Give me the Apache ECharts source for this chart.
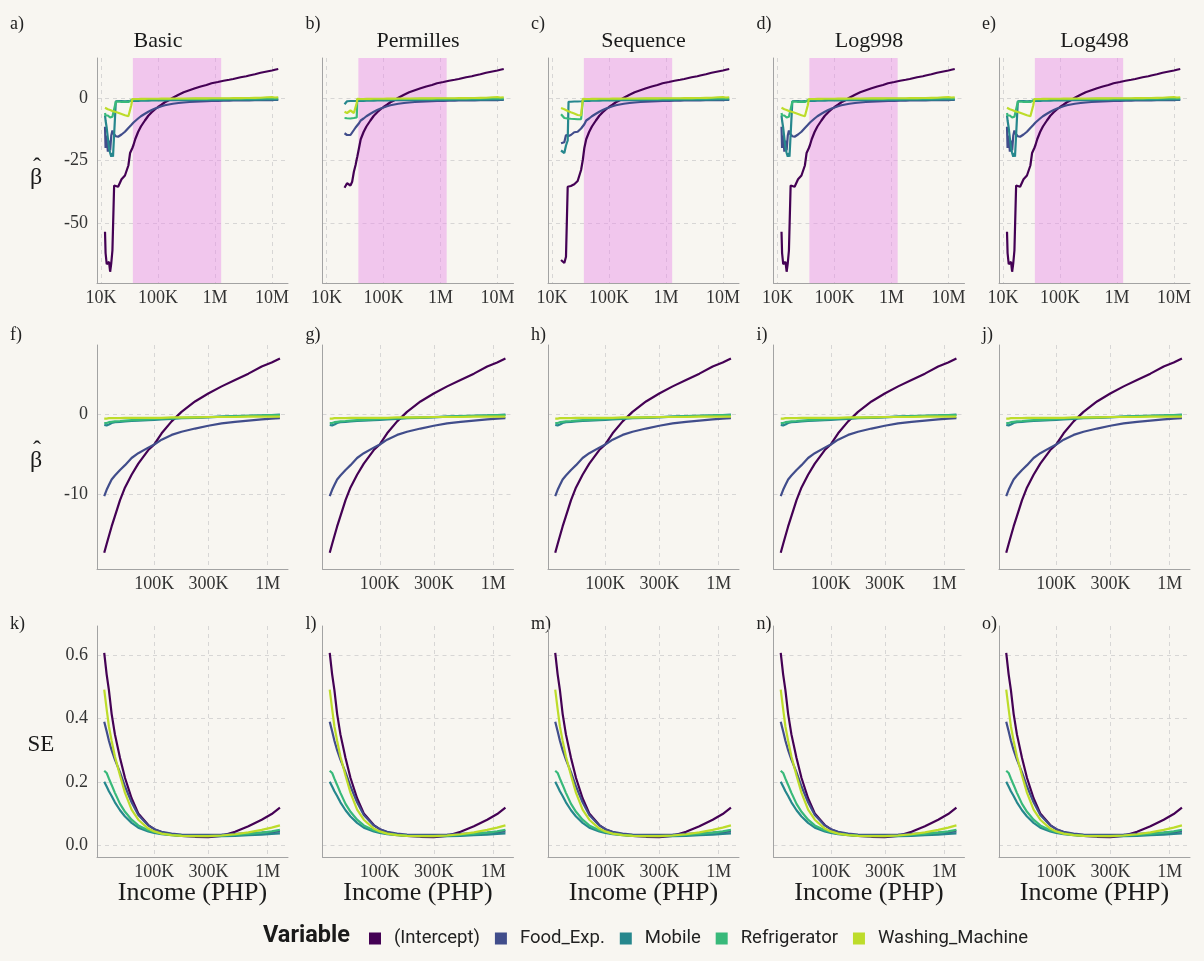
<!DOCTYPE html>
<html>
<head>
<meta charset="utf-8">
<script src="https://cdn.jsdelivr.net/npm/echarts@6/dist/echarts.min.js"></script>
<style>
  html, body { margin: 0; padding: 0; background: #f8f6f1; }
  #chart { width: 1204px; height: 961px; }
</style>
</head>
<body>
<div id="chart"></div>
<script>
// ---- Categories ----
const methods = ['Basic', 'Permilles', 'Sequence', 'Log998', 'Log498'];
const variables = ['(Intercept)', 'Food_Exp.', 'Mobile', 'Refrigerator', 'Washing_Machine'];
const panelTags = ['a)', 'b)', 'c)', 'd)', 'e)', 'f)', 'g)', 'h)', 'i)', 'j)', 'k)', 'l)', 'm)', 'n)', 'o)'];

// ---- Tick labels ----
const row1IncomeTicks = [10000, 100000, 1000000, 10000000];
const row23IncomeTicks = [100000, 300000, 1000000];
const row1BetaTicks = [-50, -25, 0];
const row2BetaTicks = [-10, 0];
const row3SeTicks = [0, 0.2, 0.4, 0.6];

// ---- Row 1: coefficient paths over the full income range (PHP) ----
// low-income start of each path, per binning method
const headIncomeBasic = [11750, 12020, 12590, 13180, 13800, 14450, 15140, 15850, 16220, 16980, 18200, 19950, 21380, 22910, 26300, 30200, 32360, 33880, 35480, 37150];
const headInterceptBasic = [-53.5, -62, -66.5, -67, -65.5, -69.5, -66, -61, -60.5, -35, -34.5, -35.5, -34, -32.5, -31, -27, -22, -21, -20, -18.8];
const headFoodBasic = [-11.5, -20, -15, -21.5, -17, -21, -15, -13, -14, -14.5, -15.3, -15.5, -15.2, -14.6, -13.5, -12, -11.3, -10.8, -10.3, -9.8];
const headMobileBasic = [-7, -9, -12, -16, -20, -22, -23.5, -22, -23.5, -23, -1.3, -1.2, -1.3, -1.2, -1.3, -1.2, -1.2, -1.2, -1.2, -1.2];
const headFridgeBasic = [-6, -7, -6.5, -7, -7.5, -7.8, -8, -7.5, -7.8, -8, -1.5, -1.4, -1.5, -1.6, -1.5, -1.6, -1.2, -0.9, -0.7, -0.6];
const headWasherBasic = [-3.9, -4.1, -4.3, -4.5, -4.6, -4.8, -5.0, -5.2, -5.3, -5.4, -5.6, -5.9, -6.2, -6.4, -6.9, -7.3, -7.5, -3, -0.4, -0.4];

const headIncomePermilles = [20700, 22910, 26300, 28180, 30200, 32360, 33880, 34670, 37150];
const headInterceptPermilles = [-35.9, -34.1, -35, -33.5, -29.5, -26.8, -24.5, -23.5, -20];
const headFoodPermilles = [-14.1, -14.8, -14.8, -13.8, -12.8, -11.8, -11.2, -11, -10.1];
const headMobilePermilles = [-2.5, -1.3, -1.2, -1.2, -1.2, -1.2, -1.2, -1.2, -1.2];
const headFridgePermilles = [-8, -8.1, -8.2, -8.2, -8, -8, -7.8, -0.6, -0.6];
const headWasherPermilles = [-5.5, -6, -5, -5.5, -6, -5.5, -2, -0.3, -0.3];

const headIncomeSequence = [14390, 16440, 17580, 18840, 19500, 21380, 23070, 24550, 28180, 32360, 34670, 36900];
const headInterceptSequence = [-64.8, -66, -63.5, -35.5, -35.3, -35.2, -35, -34.5, -33.2, -28.8, -24.8, -20];
const headFoodSequence = [-18.1, -17.7, -14.8, -15.5, -15.2, -14.8, -14.2, -13.7, -13.5, -12.2, -11.5, -10.5];
const headMobileSequence = [-21, -22, -19, -17, -1.5, -1.5, -1.4, -1.4, -1.4, -1.3, -1.3, -1.2];
const headFridgeSequence = [-6.5, -8, -8.2, -8.2, -8.2, -8.3, -8.3, -8.4, -8.5, -8.5, -1.0, -0.8];
const headWasherSequence = [-4, -4.5, -4.8, -5.2, -5.3, -5.7, -6, -6.2, -6.8, -7, -0.3, -0.3];

// shared upper part of every path
const tailIncome = [39800, 44700, 50100, 58900, 67600, 77600, 89100, 100000, 115000, 132000, 155000, 182000, 229000, 282000, 355000, 447000, 562000, 708000, 871000, 1122000, 1413000, 1778000, 2089000, 2818000, 3548000, 3981000, 5012000, 6310000, 8128000, 10000000, 11220000, 12880000];
const tailIntercept = [-16.5, -13.6, -11.4, -9.0, -7.1, -5.7, -4.5, -3.6, -2.7, -1.7, -0.9, 0.1, 1.3, 2.3, 3.1, 3.9, 4.6, 5.2, 5.9, 6.4, 6.9, 7.3, 7.6, 8.3, 8.7, 9.0, 9.5, 10.1, 10.6, 11.0, 11.3, 11.6];
const tailFood = [-9.0, -8.2, -7.3, -6.3, -5.5, -4.8, -4.2, -3.8, -3.3, -2.9, -2.6, -2.3, -2.0, -1.8, -1.6, -1.5, -1.4, -1.3, -1.2, -1.15, -1.1, -1.05, -1.0, -1.0, -0.95, -0.95, -0.9, -0.9, -0.85, -0.85, -0.8, -0.8];
const tailMobile = [-1.2, -1.2, -1.1, -1.1, -1.1, -1.0, -1.0, -1.0, -0.95, -0.95, -0.9, -0.9, -0.9, -0.85, -0.85, -0.8, -0.8, -0.8, -0.75, -0.75, -0.75, -0.7, -0.7, -0.7, -0.7, -0.65, -0.65, -0.65, -0.6, -0.6, -0.6, -0.6];
const tailFridge = [-0.6, -0.6, -0.55, -0.55, -0.5, -0.5, -0.5, -0.45, -0.45, -0.45, -0.4, -0.4, -0.4, -0.4, -0.35, -0.35, -0.35, -0.35, -0.3, -0.3, -0.3, -0.3, -0.3, -0.25, -0.25, -0.25, -0.25, -0.2, -0.2, -0.2, -0.2, -0.2];
const tailWasher = [-0.4, -0.4, -0.35, -0.35, -0.3, -0.3, -0.3, -0.3, -0.25, -0.25, -0.25, -0.2, -0.2, -0.2, -0.2, -0.15, -0.15, -0.15, -0.1, -0.1, -0.1, -0.1, -0.05, -0.05, 0.0, 0.0, 0.05, 0.1, 0.3, 0.4, 0.2, 0.3];

// ---- Rows 2 and 3: restricted income range ----
const midIncome = [36200, 38020, 39810, 42070, 44980, 49890, 55210, 63100, 72280, 88510, 100000, 116100, 142200, 173800, 228600, 299200, 392600, 515200, 676100, 885100, 1084000, 1282000];
const midIntercept = [-17.4, -16.3, -15.3, -14.1, -12.8, -10.8, -9.2, -7.6, -6.2, -4.5, -3.8, -2.4, -0.9, 0.3, 1.6, 2.6, 3.5, 4.3, 5.1, 6.0, 6.5, 7.0];
const midFood = [-10.3, -9.5, -8.9, -8.2, -7.7, -7.0, -6.4, -5.5, -4.9, -4.2, -3.8, -3.2, -2.6, -2.2, -1.8, -1.45, -1.15, -0.95, -0.8, -0.65, -0.55, -0.5];
const midMobile = [-1.35, -1.4, -1.3, -1.1, -1.0, -0.95, -0.9, -0.85, -0.8, -0.75, -0.7, -0.65, -0.6, -0.5, -0.45, -0.4, -0.3, -0.25, -0.2, -0.15, -0.1, -0.05];
const midFridge = [-1.1, -1.1, -1.0, -0.95, -0.9, -0.85, -0.8, -0.75, -0.7, -0.65, -0.6, -0.55, -0.5, -0.45, -0.4, -0.35, -0.3, -0.25, -0.2, -0.15, -0.1, -0.1];
const midWasher = [-0.55, -0.55, -0.5, -0.5, -0.5, -0.5, -0.45, -0.45, -0.45, -0.45, -0.45, -0.45, -0.4, -0.4, -0.4, -0.35, -0.35, -0.35, -0.3, -0.3, -0.3, -0.3];

const seIntercept = [0.608, 0.54, 0.49, 0.415, 0.35, 0.275, 0.212, 0.148, 0.1, 0.063, 0.05, 0.04, 0.033, 0.029, 0.026, 0.025, 0.029, 0.042, 0.059, 0.08, 0.098, 0.118];
const seFood = [0.39, 0.36, 0.33, 0.3, 0.27, 0.23, 0.185, 0.135, 0.095, 0.062, 0.05, 0.042, 0.036, 0.033, 0.032, 0.032, 0.033, 0.035, 0.037, 0.039, 0.041, 0.043];
const seMobile = [0.2, 0.185, 0.17, 0.155, 0.135, 0.11, 0.09, 0.07, 0.055, 0.043, 0.038, 0.034, 0.031, 0.029, 0.028, 0.028, 0.028, 0.029, 0.031, 0.033, 0.035, 0.037];
const seFridge = [0.235, 0.228, 0.21, 0.19, 0.165, 0.13, 0.105, 0.08, 0.062, 0.047, 0.041, 0.036, 0.032, 0.03, 0.029, 0.029, 0.03, 0.032, 0.035, 0.039, 0.043, 0.048];
const seWasher = [0.492, 0.43, 0.375, 0.33, 0.28, 0.22, 0.165, 0.112, 0.08, 0.052, 0.043, 0.036, 0.031, 0.029, 0.028, 0.028, 0.03, 0.034, 0.04, 0.048, 0.055, 0.062];

// ---- Styling / layout ----
const colors = ['#440154', '#414d8b', '#26878d', '#38b97a', '#bddc2a'];
const serif = '"Liberation Serif", "DejaVu Serif", serif';
const colLeft = [97, 322.5, 548, 773.5, 999];
const plotWidth = 191;
const titleCenter = [158, 418, 643.5, 869, 1094.5];
const rowLayout = [
  { top: 58, height: 225, xRange: [8500, 19100000], yRange: [-74, 16], xTicks: row1IncomeTicks, yTicks: row1BetaTicks, digits: 0 },
  { top: 345, height: 224, xRange: [31260, 1510000], yRange: [-19.45, 8.7], xTicks: row23IncomeTicks, yTicks: row2BetaTicks, digits: 0 },
  { top: 626, height: 231, xRange: [31260, 1510000], yRange: [-0.038, 0.693], xTicks: row23IncomeTicks, yTicks: row3SeTicks, digits: 1 }
];

const L = Math.log10;
const pairs = (xs, ys) => xs.map((x, i) => [L(x), ys[i]]);

function fmtIncome(v) {
  const n = Math.round(Math.pow(10, v));
  if (n >= 1e6) return (n / 1e6) + 'M';
  if (n >= 1e3) return (n / 1e3) + 'K';
  return String(n);
}

const basicHead = [headIncomeBasic, [headInterceptBasic, headFoodBasic, headMobileBasic, headFridgeBasic, headWasherBasic]];
const row1Heads = {
  Basic: basicHead,
  Permilles: [headIncomePermilles, [headInterceptPermilles, headFoodPermilles, headMobilePermilles, headFridgePermilles, headWasherPermilles]],
  Sequence: [headIncomeSequence, [headInterceptSequence, headFoodSequence, headMobileSequence, headFridgeSequence, headWasherSequence]],
  Log998: basicHead,
  Log498: basicHead
};
const tails = [tailIntercept, tailFood, tailMobile, tailFridge, tailWasher];
const midSeries = [midIntercept, midFood, midMobile, midFridge, midWasher];
const seSeries = [seIntercept, seFood, seMobile, seFridge, seWasher];

const grids = [], xAxes = [], yAxes = [], series = [], graphics = [];

rowLayout.forEach((row, r) => {
  methods.forEach((m, c) => {
    const idx = r * 5 + c;
    grids.push({ left: colLeft[c], top: row.top, width: plotWidth, height: row.height, containLabel: false });
    const xTickPos = row.xTicks.map(v => L(v));
    xAxes.push({
      type: 'value', gridIndex: idx,
      min: L(row.xRange[0]), max: L(row.xRange[1]),
      axisLine: { show: true, onZero: false, lineStyle: { color: '#a3a3a3', width: 1 } },
      axisTick: { show: false, customValues: xTickPos },
      axisLabel: {
        customValues: xTickPos, formatter: fmtIncome, margin: 6,
        fontFamily: serif, fontSize: 18, color: '#333'
      },
      splitLine: { show: true, lineStyle: { color: '#cfcfcf', width: 0.8, type: [4, 4] } }
    });
    yAxes.push({
      type: 'value', gridIndex: idx,
      min: row.yRange[0], max: row.yRange[1],
      axisLine: { show: true, onZero: false, lineStyle: { color: '#a3a3a3', width: 1 } },
      axisTick: { show: false, customValues: row.yTicks },
      axisLabel: {
        show: c === 0, customValues: row.yTicks, margin: 9,
        formatter: v => v.toFixed(row.digits),
        fontFamily: serif, fontSize: 18, color: '#333'
      },
      splitLine: { show: true, lineStyle: { color: '#cfcfcf', width: 0.8, type: [4, 4] } }
    });

    // shaded band = income range used in the restricted models
    if (r === 0) {
      series.push({
        type: 'line', xAxisIndex: idx, yAxisIndex: idx, data: [], z: 1, silent: true,
        markArea: {
          silent: true,
          itemStyle: { color: 'rgba(232, 140, 232, 0.45)' },
          data: [[{ xAxis: L(midIncome[0]) }, { xAxis: L(midIncome[midIncome.length - 1]) }]]
        }
      });
    }

    variables.forEach((v, k) => {
      let data;
      if (r === 0) {
        const [hx, hys] = row1Heads[m];
        data = pairs(hx, hys[k]).concat(pairs(tailIncome, tails[k]));
      } else if (r === 1) {
        data = pairs(midIncome, midSeries[k]);
      } else {
        data = pairs(midIncome, seSeries[k]);
      }
      series.push({
        name: v, type: 'line', xAxisIndex: idx, yAxisIndex: idx,
        data, showSymbol: false, symbol: 'none', z: 2,
        itemStyle: { color: colors[k] },
        lineStyle: { color: colors[k], width: 2.2 },
        emphasis: { disabled: true }
      });
    });

    // panel tag
    const tagY = [25, 336, 625][r];
    graphics.push({
      type: 'text', left: c === 0 ? 10 : colLeft[c] - 17, top: tagY - 10,
      style: { text: panelTags[idx], font: '18px ' + serif, fill: '#222' }
    });
  });
});

// column titles and x-axis titles
methods.forEach((m, c) => {
  graphics.push({
    type: 'text', x: titleCenter[c], y: 41,
    style: { text: m, font: '22px ' + serif, fill: '#1a1a1a', textAlign: 'center', textVerticalAlign: 'middle' }
  });
  graphics.push({
    type: 'text', x: colLeft[c] + plotWidth / 2, y: 893,
    style: { text: 'Income (PHP)', font: '26px ' + serif, fill: '#1a1a1a', textAlign: 'center', textVerticalAlign: 'middle' }
  });
});

// y-axis titles: beta with a hat, and SE
[177, 460].forEach(y => {
  graphics.push({
    type: 'text', x: 36, y: y + 1,
    style: { text: 'β', font: '24px ' + serif, fill: '#1a1a1a', textAlign: 'center', textVerticalAlign: 'middle' }
  });
  graphics.push({
    type: 'text', x: 37, y: y - 9,
    style: { text: 'ˆ', font: '24px ' + serif, fill: '#1a1a1a', textAlign: 'center', textVerticalAlign: 'middle' }
  });
});
graphics.push({
  type: 'text', x: 41, y: 745,
  style: { text: 'SE', font: '23px ' + serif, fill: '#1a1a1a', textAlign: 'center', textVerticalAlign: 'middle' }
});

// legend heading
graphics.push({
  type: 'text', x: 263, y: 936,
  style: { text: 'Variable', font: 'bold 23.5px Roboto', fill: '#1a1a1a', textAlign: 'left', textVerticalAlign: 'middle' }
});

const chart = echarts.init(document.getElementById('chart'), null, { renderer: 'canvas' });
chart.setOption({
  backgroundColor: '#f8f6f1',
  animation: false,
  grid: grids,
  xAxis: xAxes,
  yAxis: yAxes,
  series: series,
  graphic: graphics,
  legend: {
    data: variables, left: 364, top: 924, icon: 'rect',
    itemWidth: 12, itemHeight: 12, itemGap: 15, selectedMode: false,
    textStyle: { fontFamily: 'Roboto', fontSize: 18.5, color: '#222', padding: [0, 0, 0, 8] }
  }
});
</script>
</body>
</html>
